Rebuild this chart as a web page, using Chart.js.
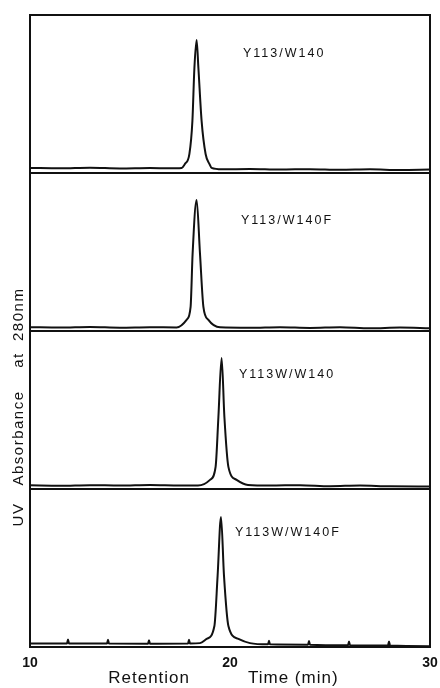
<!DOCTYPE html>
<html>
<head>
<meta charset="utf-8">
<title>UV absorbance chromatograms</title>
<script src="https://cdn.jsdelivr.net/npm/chart.js@4.4.1/dist/chart.umd.min.js"></script>
<style>
  html, body { margin: 0; padding: 0; background: #fff; }
  canvas { display: block; }
</style>
</head>
<body>
<canvas id="chrom" width="440" height="688"></canvas>
<script>
// ---- traces: retention time (min) vs. absorbance (arbitrary units) ----
const panelNames = ['Y113/W140', 'Y113/W140F', 'Y113W/W140', 'Y113W/W140F'];
const xTicks = [10, 20, 30];

const rtA  = [10, 11.5, 13, 14.5, 16, 17.0, 17.58, 17.75, 17.97, 18.12, 18.22, 18.33, 18.42, 18.58, 18.78, 18.97, 19.08, 19.6, 21, 22.5, 24, 25.5, 27, 28.5, 30];
const absA = [1.3, 1.0, 1.4, 0.9, 1.2, 1.0, 1.3, 3.9, 10.3, 31.6, 65.8, 83.9, 65.8, 31.6, 10.3, 3.9, 1.3, 0.4, 0.6, 0.2, 0.5, 0.1, 0.4, -0.1, 0.2];

const rtB  = [10, 11.5, 13, 14.5, 16, 17.33, 17.83, 18.03, 18.13, 18.33, 18.50, 18.67, 18.92, 19.5, 21, 22.5, 24, 25.5, 27, 28.5, 30];
const absB = [0.5, 0.2, 0.6, 0.1, 0.4, 0.3, 5.2, 13.6, 47.8, 82.6, 47.8, 13.6, 5.2, 0.4, 0.1, 0.5, 0.0, 0.4, -0.3, 0.2, -0.2];

const rtC  = [10, 11.5, 13, 14.5, 16, 17.5, 18.4, 19.0, 19.28, 19.42, 19.58, 19.72, 19.92, 20.33, 20.9, 22, 23.5, 25, 26.5, 28, 30];
const absC = [0.4, 0.1, 0.5, 0.2, 0.6, 0.3, 0.3, 3.9, 12.3, 44.5, 82.6, 44.5, 12.3, 3.9, 0.6, 0.2, 0.5, -0.2, 0.3, -0.3, -0.4];

// bottom trace carries the 2-min timer marks
const rtD  = [10, 11.85, 11.9, 11.95, 13.85, 13.9, 13.95, 15.9, 15.95, 16.0, 17.9, 17.95, 18.0, 18.5, 18.83, 19.22, 19.38, 19.55, 19.70, 19.92, 20.42, 21.0, 21.9, 21.95, 22.0, 23.9, 23.95, 24.0, 25.9, 25.95, 26.0, 27.9, 27.95, 28.0, 30];
const absD = [0.2, 0.3, 2.8, 0.3, 0.2, 2.6, 0.2, 0.1, 2.4, 0.1, 0.2, 2.6, 0.2, 0.5, 3.2, 11.6, 43.9, 82, 43.9, 11.6, 3.2, 0.5, -0.3, 2.0, -0.3, -0.5, 1.8, -0.5, -0.9, 1.5, -0.9, -1.1, 1.6, -1.1, -1.5];

const traces = [[rtA, absA], [rtB, absB], [rtC, absC], [rtD, absD]];
const INK = '#111';
const FONT = '"Liberation Sans", Arial, sans-serif';

// ---- panel frames, sample names and axis titles ----
const panelDecor = {
  id: 'panelDecor',
  afterDatasetsDraw(chart, args, opts) {
    const { ctx, chartArea, scales } = chart;
    const x = scales.x;
    ctx.save();
    ctx.strokeStyle = INK;
    ctx.lineWidth = 2;
    panelNames.forEach((name, i) => {
      const s = scales['y' + i];
      ctx.strokeRect(chartArea.left, s.top, chartArea.right - chartArea.left, s.bottom - s.top);
    });

    ctx.fillStyle = INK;
    ctx.textBaseline = 'middle';
    ctx.textAlign = 'left';
    ctx.font = '12.5px ' + FONT;
    ctx.letterSpacing = '2px';
    panelNames.forEach((name, i) => {
      const [t, v] = opts.labelAt[i];
      ctx.fillText(name, x.getPixelForValue(t), scales['y' + i].getPixelForValue(v));
    });

    // y title, centred on the third panel
    const yc = scales.y2;
    ctx.save();
    ctx.translate(19, (yc.top + yc.bottom) / 2 - 3);
    ctx.rotate(-Math.PI / 2);
    ctx.textAlign = 'center';
    ctx.font = '15px ' + FONT;
    ctx.letterSpacing = '1.5px';
    ctx.fillText('UV   Absorbance    at  280nm', 0, 0);
    ctx.restore();

    // x title
    const xc = (chartArea.left + chartArea.right) / 2;
    ctx.font = '17px ' + FONT;
    ctx.letterSpacing = '1px';
    ctx.textAlign = 'right';
    ctx.fillText('Retention', xc - 40, 678);
    ctx.textAlign = 'left';
    ctx.fillText('Time (min)', xc + 18, 678);
    ctx.restore();
  }
};

const yScales = {};
panelNames.forEach((name, i) => {
  yScales['y' + i] = {
    type: 'linear',
    position: 'left',
    stack: 'panels',
    stackWeight: 1,
    weight: panelNames.length - i,
    min: -2,
    max: 100,
    ticks: { display: false },
    grid: { display: false, drawTicks: false },
    border: { display: false },
    afterFit: s => { s.width = 30; }
  };
});

new Chart(document.getElementById('chrom'), {
  type: 'line',
  data: {
    datasets: traces.map(([rt, ab], i) => ({
      label: panelNames[i],
      yAxisID: 'y' + i,
      data: rt.map((t, j) => ({ x: t, y: ab[j] })),
      borderColor: INK,
      borderWidth: 2,
      pointRadius: 0,
      fill: false,
      cubicInterpolationMode: 'monotone'
    }))
  },
  options: {
    responsive: false,
    animation: false,
    layout: { padding: { top: 15, right: 10, left: 0, bottom: 0 } },
    plugins: {
      legend: { display: false },
      tooltip: { enabled: false },
      panelDecor: {
        labelAt: [[20.65, 74.8], [20.55, 69], [20.45, 72.2], [20.25, 71.6]]
      }
    },
    scales: {
      x: {
        type: 'linear',
        min: 10,
        max: 30,
        afterBuildTicks: s => { s.ticks = xTicks.map(v => ({ value: v })); },
        ticks: {
          color: INK,
          padding: 8,
          maxRotation: 0,
          autoSkip: false,
          font: { family: FONT, size: 14, weight: 'bold' }
        },
        grid: { display: false, drawTicks: false },
        border: { display: false },
        afterFit: s => {
          s.height = 41;
          s.paddingLeft = 0;
          s.paddingRight = 0;
        }
      },
      ...yScales
    }
  },
  plugins: [panelDecor]
});
</script>
</body>
</html>
